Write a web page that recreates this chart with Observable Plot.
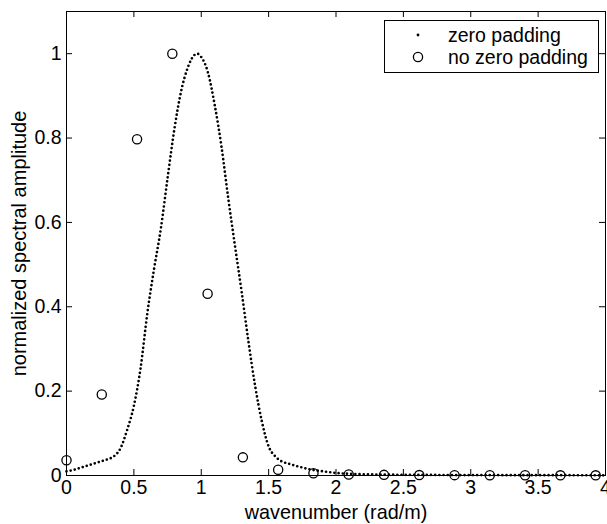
<!DOCTYPE html>
<html>
<head>
<meta charset="utf-8">
<script src="https://cdn.jsdelivr.net/npm/d3@7"></script>
<script src="https://cdn.jsdelivr.net/npm/@observablehq/plot@0.6"></script>
<style>
  html, body { margin: 0; padding: 0; background: #fff; }
  #chart { width: 607px; height: 524px; }
</style>
</head>
<body>
<div id="chart"></div>
<script>
// zero padding curve (wavenumber, normalized amplitude)
const zpK = [0.00,0.05,0.10,0.15,0.20,0.25,0.30,0.35,0.40,0.45,0.50,0.55,0.60,0.65,0.70,0.75,0.80,0.85,0.90,0.95,0.97,1.00,1.05,1.10,1.15,1.20,1.25,1.30,1.35,1.40,1.45,1.50,1.55,1.60,1.65,1.70,1.75,1.80,1.85,1.90,1.95,2.00,2.10,2.20,2.40,2.60,3.00,3.50,4.00];
const zpV = [0.010,0.013,0.018,0.023,0.028,0.033,0.038,0.045,0.064,0.108,0.165,0.255,0.385,0.490,0.585,0.705,0.820,0.910,0.967,0.997,1.000,0.992,0.955,0.878,0.780,0.658,0.545,0.435,0.318,0.212,0.128,0.069,0.045,0.033,0.028,0.023,0.019,0.015,0.012,0.010,0.008,0.006,0.004,0.003,0.002,0.0015,0.001,0.0008,0.0005];
// no zero padding samples
const nzK = [0,0.2618,0.5236,0.7854,1.0472,1.309,1.5708,1.8326,2.0944,2.3562,2.618,2.8798,3.1416,3.4034,3.6652,3.927];
const nzV = [0.036,0.192,0.797,1.0,0.431,0.043,0.0135,0.0055,0.0025,0.0015,0.001,0.0008,0.0006,0.0005,0.0004,0.0004];
// ticks
const xTicks = [0,0.5,1,1.5,2,2.5,3,3.5,4];
const xTickLabels = ["0","0.5","1","1.5","2","2.5","3","3.5","4"];
const yTicks = [0,0.2,0.4,0.6,0.8,1];
const yTickLabels = ["0","0.2","0.4","0.6","0.8","1"];
const legendLabels = ["zero padding","no zero padding"];

const zp = zpK.map((k,i) => ({k, v: zpV[i]}));
const nz = nzK.map((k,i) => ({k, v: nzV[i]}));

const W = 607, H = 524, mL = 66, mR = 2, mT = 11, mB = 49;
const xDom = [0,4], yDom = [0,1.1];
const tl = 6;
const tlx = tl * (xDom[1]-xDom[0]) / (W - mL - mR);
const tly = tl * (yDom[1]-yDom[0]) / (H - mT - mB);
const FONT = "'Liberation Sans', Arial, Helvetica, sans-serif";
const FS = 19.5;

const svg = Plot.plot({
  width: W, height: H,
  marginLeft: mL, marginRight: mR, marginTop: mT, marginBottom: mB,
  style: {fontFamily: FONT, fontSize: FS + "px", color: "black", background: "white", overflow: "visible"},
  x: {domain: xDom, label: null},
  y: {domain: yDom, label: null},
  marks: [
    Plot.line(zp, {x: "k", y: "v", curve: "monotone-x", stroke: "black", strokeWidth: 2.7, strokeDasharray: "0 4.2", strokeLinecap: "round"}),
    Plot.dot(nz, {x: "k", y: "v", r: 4.6, stroke: "black", strokeWidth: 1.3, fill: "none"}),
    Plot.frame({stroke: "black", strokeWidth: 1}),
    Plot.ruleX(xTicks, {x: d => d, y1: yDom[0], y2: yDom[0] + tly, stroke: "black"}),
    Plot.ruleX(xTicks, {x: d => d, y1: yDom[1] - tly, y2: yDom[1], stroke: "black"}),
    Plot.ruleY(yTicks, {y: d => d, x1: xDom[0], x2: xDom[0] + tlx, stroke: "black"}),
    Plot.ruleY(yTicks, {y: d => d, x1: xDom[1] - tlx, x2: xDom[1], stroke: "black"}),
    Plot.axisX(xTicks, {tickSize: 0, tickPadding: 5, fontSize: FS, tickFormat: (d, i) => xTickLabels[i], label: null}),
    Plot.axisY(yTicks, {tickSize: 0, tickPadding: 5, fontSize: FS, tickFormat: (d, i) => yTickLabels[i], label: null}),
    Plot.text(["wavenumber (rad/m)"], {frameAnchor: "bottom", dy: 43, text: d => d, fontSize: 19.8, textAnchor: "middle", lineAnchor: "bottom"}),
    Plot.text(["normalized spectral amplitude"], {frameAnchor: "left", dx: -41, rotate: -90, text: d => d, fontSize: 20, textAnchor: "middle", lineAnchor: "bottom"})
  ]
});

// legend box
const s = d3.select(svg);
const g = s.append("g").attr("font-family", FONT).attr("font-size", FS).attr("text-anchor", "start");
g.append("rect").attr("x", 384.5).attr("y", 20.5).attr("width", 214).attr("height", 52)
  .attr("fill", "white").attr("stroke", "black").attr("stroke-width", 1);
g.append("circle").attr("cx", 418).attr("cy", 35).attr("r", 1.4).attr("fill", "black");
g.append("circle").attr("cx", 418).attr("cy", 57).attr("r", 4.6).attr("fill", "none").attr("stroke", "black").attr("stroke-width", 1.3);
g.append("text").attr("x", 448).attr("y", 35).attr("dy", "0.35em").text(legendLabels[0]);
g.append("text").attr("x", 448).attr("y", 57).attr("dy", "0.35em").text(legendLabels[1]);

document.getElementById("chart").appendChild(svg);
</script>
</body>
</html>
